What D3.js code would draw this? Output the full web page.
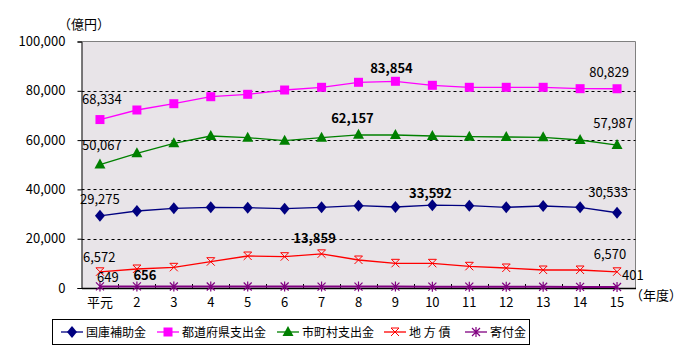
<!DOCTYPE html>
<html><head><meta charset="utf-8">
<script src="https://cdn.jsdelivr.net/npm/d3@7"></script>
<style>
body{margin:0;background:#fff;}
text{font-family:"Noto Sans CJK JP","Noto Sans",sans-serif;}
</style></head>
<body><svg id="c" width="685" height="355"></svg>
<script>
const categories = ["平元","2","3","4","5","6","7","8","9","10","11","12","13","14","15"];
const seriesNames = ["国庫補助金","都道府県支出金","市町村支出金","地 方 債","寄付金"];
const kokko   = [29275,31240,32330,32740,32580,32170,32740,33390,32860,33592,33390,32740,33260,32740,30533];
const todofu  = [68334,72210,74770,77600,78580,80320,81420,83450,83854,82230,81420,81420,81420,80860,80829];
const shicho  = [50067,54640,58700,61660,60970,59760,60970,62157,62070,61660,61390,61260,61120,60040,57987];
const chihou  = [6572,7710,8390,10670,12980,12700,13859,11360,10010,10010,8800,8110,7300,7300,6570];
const kifu    = [649,656,620,610,600,590,580,570,560,550,540,520,500,450,401];
const yTicks  = [0,20000,40000,60000,80000,100000];
const colors  = ["#000080","#FF00FF","#008000","#FF0000","#800080"];
const series  = [kokko,todofu,shicho,chihou,kifu];

const svg = d3.select("#c");
const L=81.5, R=635.5, T=41.5, B=288;
const x = d3.scaleBand().domain(categories).range([L,R]);
const y = d3.scaleLinear().domain([0,100000]).range([B,T]);
const cx = c => x(c)+x.bandwidth()/2;
const fmt = d3.format(",");

svg.append("rect").attr("x",L).attr("y",T).attr("width",R-L).attr("height",B-T).attr("fill","#E8E4E8");
svg.append("path").attr("d",`M${L},${T}H${R}V${B}`).attr("fill","none").attr("stroke","#808080").attr("stroke-width",1);
svg.selectAll(".g").data(yTicks.filter(v=>v>0&&v<100000)).enter().append("line")
  .attr("x1",L).attr("x2",R).attr("y1",d=>Math.round(y(d))+0.5).attr("y2",d=>Math.round(y(d))+0.5)
  .attr("stroke","#000").attr("stroke-dasharray","3,3").attr("stroke-width",1);

const ya = svg.append("g").attr("transform",`translate(${L},0)`)
  .call(d3.axisLeft(y).tickValues(yTicks).tickFormat(fmt).tickSize(4).tickPadding(12));
ya.select(".domain").attr("stroke","#000");
ya.selectAll("text").attr("font-size",13).attr("fill","#000");
const xa = svg.append("g").attr("transform",`translate(0,${B})`)
  .call(d3.axisBottom(x).tickSize(0).tickPadding(10));
xa.select(".domain").attr("stroke","#000").attr("stroke-width",1.5);
xa.selectAll("text").attr("font-size",13).attr("fill","#000");
svg.selectAll(".xt").data(categories.slice(1)).enter().append("line")
  .attr("x1",d=>Math.round(x(d))+0.5).attr("x2",d=>Math.round(x(d))+0.5).attr("y1",B).attr("y2",B-4).attr("stroke","#000");

svg.append("text").attr("x",58).attr("y",29).attr("font-size",13).text("（億円）");
svg.append("text").attr("x",630).attr("y",300).attr("font-size",13).text("（年度）");

const line = d3.line().x((d,i)=>cx(categories[i])).y(d=>y(d));

function marker(g, k, px, py){
  const c = colors[k];
  if(k===0){ g.append("path").attr("d",`M${px},${py-6}L${px+5},${py}L${px},${py+6}L${px-5},${py}Z`).attr("fill",c); }
  else if(k===1){ g.append("rect").attr("x",px-4.5).attr("y",py-4.5).attr("width",9).attr("height",9).attr("fill",c); }
  else if(k===2){ g.append("path").attr("d",`M${px},${py-6}L${px+5.5},${py+4}L${px-5.5},${py+4}Z`).attr("fill",c); }
  else if(k===3){ g.append("path").attr("d",`M${px-4},${py-4}L${px+4},${py+4}M${px+4},${py-4}L${px-4},${py+4}M${px-4},${py-4}H${px+4}`).attr("stroke",c).attr("fill","none").attr("stroke-width",1); }
  else { g.append("path").attr("d",`M${px-4},${py-4}L${px+4},${py+4}M${px+4},${py-4}L${px-4},${py+4}M${px},${py-5}V${py+5}`).attr("stroke",c).attr("fill","none").attr("stroke-width",1.2); }
}

series.forEach((s,k)=>{
  svg.append("path").datum(s).attr("d",line).attr("fill","none").attr("stroke",colors[k]).attr("stroke-width",k===4?2:1.3);
});
series.forEach((s,k)=>{
  const g = svg.append("g");
  s.forEach((v,i)=>marker(g,k,cx(categories[i]),y(v)));
});

function lab(k,i,dx,dy,anchor,bold){
  svg.append("text").attr("x",cx(categories[i])+dx).attr("y",y(series[k][i])+dy)
    .attr("text-anchor",anchor).attr("font-size",13).attr("font-weight",bold?"bold":"normal")
    .attr("fill","#000").text(fmt(series[k][i]));
}
const last = categories.length-1;
lab(1,0,-18,-16,"start"); lab(2,0,-18,-15,"start"); lab(0,0,-20,-12,"start"); lab(3,0,-17,-10,"start"); lab(4,0,-3,-4,"start");
lab(1,last,-8,-12,"middle"); lab(2,last,-4,-17,"middle"); lab(0,last,-9,-16,"middle"); lab(3,last,-7,-13,"middle"); lab(4,last,5,-7,"start");
lab(1,8,-4,-8,"middle",true); lab(2,7,-6,-12,"middle",true); lab(0,9,-2,-7,"middle",true); lab(3,6,-7,-11,"middle",true); lab(4,1,8,-6,"middle",true);

const lg = svg.append("g");
lg.append("rect").attr("x",52.5).attr("y",319.5).attr("width",477).attr("height",25).attr("fill","#fff").attr("stroke","#000");
const lx = [61,157,277,384,465];
seriesNames.forEach((n,k)=>{
  const g = lg.append("g");
  g.append("line").attr("x1",lx[k]).attr("x2",lx[k]+22).attr("y1",332).attr("y2",332).attr("stroke",colors[k]).attr("stroke-width",1.3);
  marker(g,k,lx[k]+11,332);
  g.append("text").attr("x",lx[k]+25).attr("y",336.5).attr("font-size",12).text(n);
});
</script></body></html>
